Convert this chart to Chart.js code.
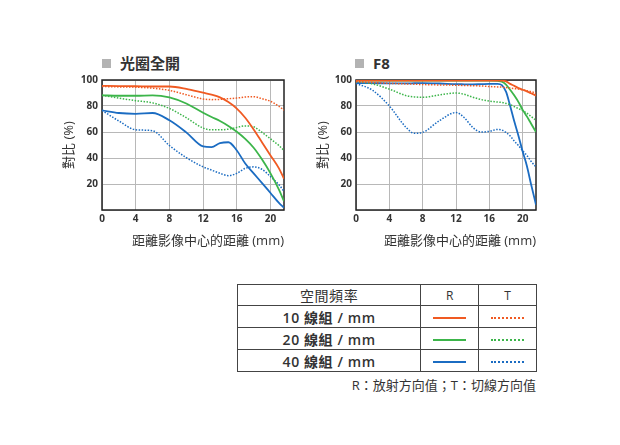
<!DOCTYPE html>
<html>
<head>
<meta charset="utf-8">
<script src="https://cdn.jsdelivr.net/npm/chart.js@4"></script>
<style>
  body { margin: 0; width: 620px; height: 445px; background: #fff; position: relative;
         font-family: 'Open Sans', 'Noto Sans CJK TC', sans-serif; color: #333; }
  .ttl { position: absolute; top: 53px; font-size: 15px; font-weight: bold; color: #333; line-height: 20px; }
  .ttl .sq { display: inline-block; width: 9px; height: 9px; background: #b3b3b3; margin-right: 9px; vertical-align: 1px; }
  .cv { position: absolute; }
  table { position: absolute; left: 237px; top: 284px; width: 300px; border-collapse: collapse; }
  td { border: 1px solid #444; padding: 0; text-align: center; font-size: 14px; color: #333; }
  td.lbl { width: 183px; font-weight: 600; letter-spacing: 0.6px; }
  td.rt { width: 57px; font-size: 12px; }
  tr.h td { height: 20px; }
  tr.r td { height: 21px; }
  .ln { display: inline-block; width: 33px; height: 0; vertical-align: middle; }
  .note { position: absolute; top: 375px; right: 84px; font-size: 13px; color: #333; }
</style>
</head>
<body>
<div class="ttl" style="left:102px"><span class="sq"></span>光圈全開</div>
<div class="ttl" style="left:355px"><span class="sq"></span>F8</div>
<canvas id="chartOpen" class="cv" style="left:57px;top:70px" width="235" height="183"></canvas>
<canvas id="chartF8" class="cv" style="left:311px;top:70px" width="233" height="183"></canvas>

<table>
  <tr class="h"><td class="lbl" style="font-weight:normal">空間頻率</td><td class="rt">R</td><td class="rt">T</td></tr>
  <tr class="r"><td class="lbl">10 線組 / mm</td><td><span class="ln" style="border-top:2px solid #f05a22"></span></td><td><span class="ln" style="border-top:2px dotted #f05a22"></span></td></tr>
  <tr class="r"><td class="lbl">20 線組 / mm</td><td><span class="ln" style="border-top:2px solid #3cb54a"></span></td><td><span class="ln" style="border-top:2px dotted #3cb54a"></span></td></tr>
  <tr class="r"><td class="lbl">40 線組 / mm</td><td><span class="ln" style="border-top:2px solid #1b6cc2"></span></td><td><span class="ln" style="border-top:2px dotted #1b6cc2"></span></td></tr>
</table>
<div class="note">R：放射方向值；T：切線方向值</div>

<script>
// 축 눈금
const xTicks = [0, 4, 8, 12, 16, 20];
const yTicks = [0, 20, 40, 60, 80, 100];

// 光圈全開 : 거리(mm) / 대비(%)
const distOpen = [0, 2, 4, 6, 8, 10, 12, 13, 14, 15, 16, 17, 18, 19, 20, 21, 21.6];
const open10R = [95.5, 95.3, 95.2, 95, 95, 93.2, 90.2, 88.7, 86.6, 83, 78, 71, 62, 52, 42, 32, 24];
const open10T = [95, 94.7, 94.5, 93.7, 92, 88.7, 85.4, 84.9, 85.1, 85.6, 86.1, 86.9, 87.2, 85.6, 83.6, 79.8, 76.8];
const open20R = [88.2, 87.9, 87.9, 88.2, 86.6, 81.9, 74.8, 71.5, 68.5, 64.7, 60.2, 54.7, 47.9, 38.8, 28.2, 15.6, 6.8];
const open20T = [88.2, 86.1, 84.1, 82.4, 78.1, 71, 63, 61.7, 61.7, 62.2, 63.5, 64.7, 64, 59.7, 54.7, 49.6, 45.8];
const open40R = [76.6, 74.6, 74, 74.6, 69, 59.7, 48.9, 48.4, 51.4, 52.1, 45.8, 35.8, 28.2, 20.7, 13.1, 5.5, 1.8];
const open40T = [76.6, 68.5, 61.7, 61, 49.6, 40.3, 33.2, 30.7, 28.2, 26.4, 28.2, 32, 33.2, 31.2, 25.7, 19.4, 14.4];

// F8 : 거리(mm) / 대비(%)
const distF8 = [0, 2, 4, 6, 7, 8, 10, 12, 13, 14, 15, 16, 17, 17.5, 18, 18.5, 19, 19.5, 20, 20.5, 21, 21.6];
const f8_10R = [99.5, 99.5, 99.5, 99.5, 99.5, 99.5, 99.5, 99.5, 99.5, 99.5, 99.5, 99.5, 99.5, 99.5, 99, 97, 95.5, 93.8, 92.5, 91.3, 89.8, 88];
const f8_10T = [98.7, 98, 97.4, 97, 96.8, 96.5, 96.2, 96, 95.8, 95.6, 95.4, 95, 94.7, 94.5, 94.2, 93.8, 93.4, 93, 92.5, 91.8, 91, 90];
const f8_20R = [99.5, 99.5, 99.5, 99.5, 99.5, 99.5, 99.5, 99.5, 99.5, 99.5, 99.5, 99.5, 99.3, 98.8, 96.5, 92.5, 88, 83, 77, 72, 66.5, 60];
const f8_20T = [98.7, 97, 93, 88, 87, 86.7, 88.5, 90, 89, 86.8, 85, 83.8, 83, 82.7, 82, 81, 79.5, 78, 76.5, 74.5, 72, 69];
const f8_40R = [97.7, 97.6, 97.4, 97.4, 97.5, 97.6, 97.3, 96.8, 96.7, 96.6, 96.8, 97, 97, 96, 91, 80, 68, 57, 45, 34, 20, 4];
const f8_40T = [97.4, 92, 80, 63.6, 59, 59.7, 68.7, 75, 71, 63.6, 60, 60.5, 62, 61.5, 59.7, 57, 53, 49.5, 45.6, 42, 37.5, 33];

const COLOR10 = '#f05a22';
const COLOR20 = '#3cb54a';
const COLOR40 = '#1b6cc2';

// 라인 데이터셋 생성 (dotted = T)
function createLineDataset(label, xArr, yArr, color, dotted){
    return {
        label: label,
        data: xArr.map((x, i) => ({x: x, y: yArr[i]})),
        borderColor: color,
        borderWidth: dotted ? 1.5 : 1.8,
        borderDash: dotted ? [1.5, 1.5] : [],
        pointRadius: 0,
        fill: false,
        cubicInterpolationMode: 'monotone'
    };
}

// 외곽 테두리
const framePlugin = {
    id: 'frame',
    beforeDatasetsDraw(chart){
        const a = chart.chartArea;
        const ctx = chart.ctx;
        ctx.save();
        ctx.strokeStyle = '#222';
        ctx.lineWidth = 1.5;
        ctx.strokeRect(a.left, a.top, a.right - a.left, a.bottom - a.top);
        ctx.restore();
    }
};

// 라인차트 생성
function createLinechart(chartid, datasets){
    const ctx = document.getElementById(chartid);
    const tickFont = {family: "'Open Sans', sans-serif", size: 10, weight: 'bold'};
    const titleFont = {family: "'Open Sans', 'Noto Sans CJK TC', sans-serif", size: 13};

    return new Chart(ctx, {
        type: 'line',
        data: {datasets: datasets},
        plugins: [framePlugin],
        options: {
            responsive: false,
            animation: false,
            layout: {padding: {top: 10, right: 8, left: 0, bottom: 0}},
            plugins: {legend: {display: false}, tooltip: {enabled: false}},
            scales: {
                x: {
                    type: 'linear', min: 0, max: 21.6,
                    afterBuildTicks: s => { s.ticks = xTicks.map(v => ({value: v})); },
                    afterFit: s => { s.height = 43; },
                    grid: {color: '#b8b8b8', lineWidth: 1, drawTicks: false},
                    border: {display: false},
                    ticks: {font: tickFont, color: '#333', padding: 3, maxRotation: 0},
                    title: {display: true, text: '距離影像中心的距離 (mm)', align: 'end', font: titleFont, color: '#333', padding: {top: 4, bottom: 4}}
                },
                y: {
                    min: 0, max: 100,
                    afterBuildTicks: s => { s.ticks = yTicks.map(v => ({value: v})); },
                    afterFit: s => { s.width = 45; },
                    grid: {color: '#b8b8b8', lineWidth: 1, drawTicks: false},
                    border: {display: false},
                    ticks: {font: tickFont, color: '#333', padding: 4, callback: v => v === 0 ? '' : v},
                    title: {display: true, text: '對比 (%)', font: titleFont, color: '#333', padding: {top: 4, bottom: 4}}
                }
            }
        }
    });
}

createLinechart('chartOpen', [
    createLineDataset('10 R', distOpen, open10R, COLOR10, false),
    createLineDataset('10 T', distOpen, open10T, COLOR10, true),
    createLineDataset('20 R', distOpen, open20R, COLOR20, false),
    createLineDataset('20 T', distOpen, open20T, COLOR20, true),
    createLineDataset('40 R', distOpen, open40R, COLOR40, false),
    createLineDataset('40 T', distOpen, open40T, COLOR40, true)
]);

createLinechart('chartF8', [
    createLineDataset('10 R', distF8, f8_10R, COLOR10, false),
    createLineDataset('10 T', distF8, f8_10T, COLOR10, true),
    createLineDataset('20 R', distF8, f8_20R, COLOR20, false),
    createLineDataset('20 T', distF8, f8_20T, COLOR20, true),
    createLineDataset('40 R', distF8, f8_40R, COLOR40, false),
    createLineDataset('40 T', distF8, f8_40T, COLOR40, true)
]);
</script>
</body>
</html>
